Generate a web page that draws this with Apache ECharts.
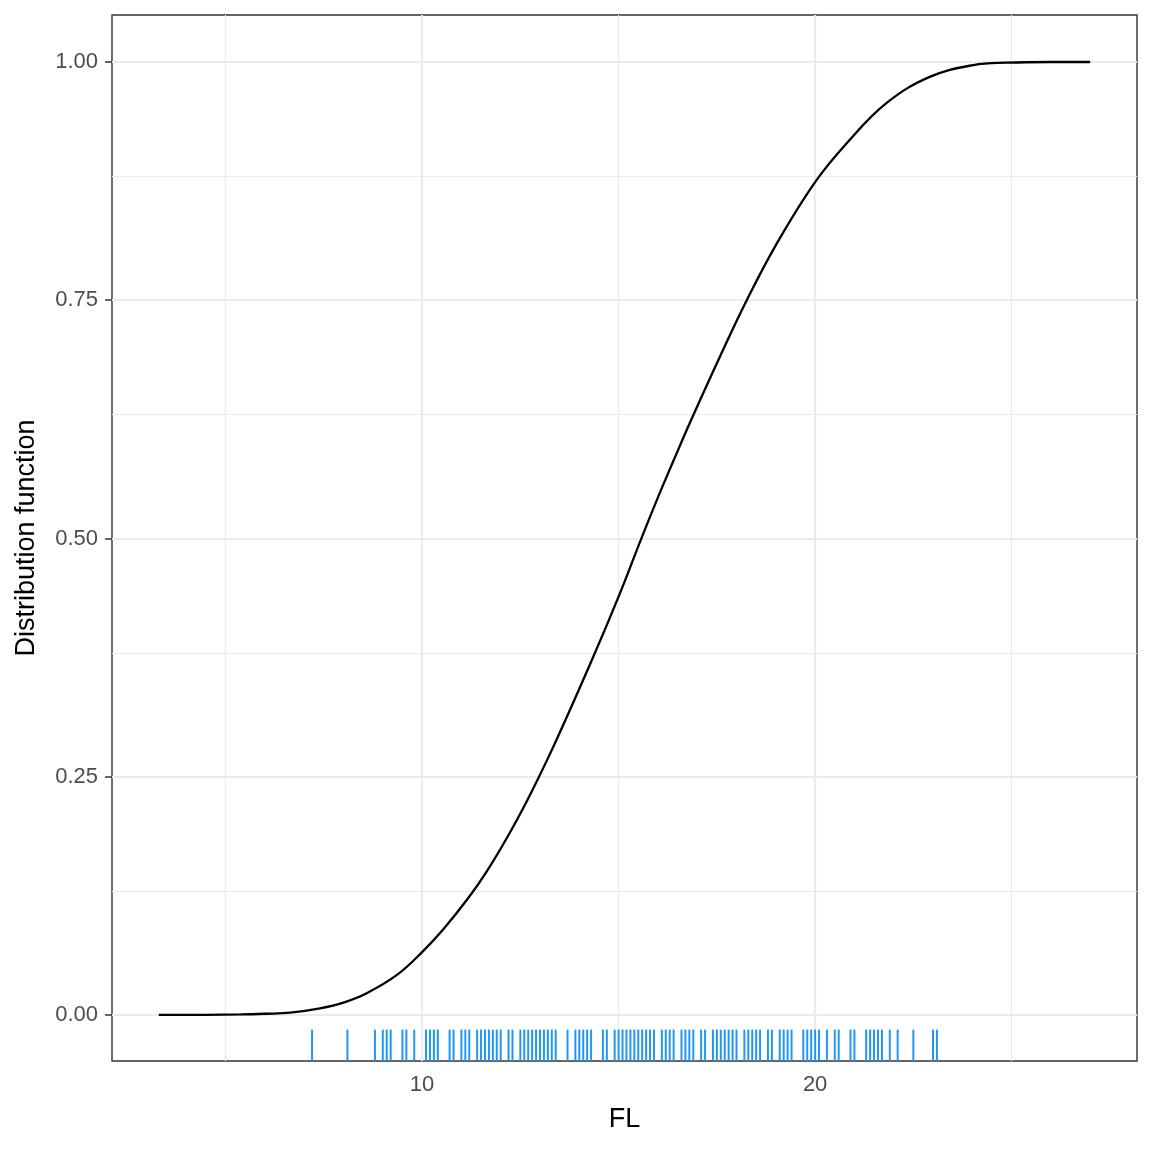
<!DOCTYPE html>
<html>
<head>
<meta charset="utf-8">
<script src="https://cdn.jsdelivr.net/npm/echarts@6/dist/echarts.min.js"></script>
<style>html,body{margin:0;padding:0;background:#fff}#c{width:1152px;height:1152px}</style>
</head>
<body>
<div id="c"></div>
<script>
// Fitted distribution function
const curveX = [3.3, 4.5, 5.4, 6.0, 6.64, 7.4, 8.0, 8.59, 9.36, 10.0, 10.54, 11.18, 11.65, 12.16, 12.68, 13.34, 14.32, 15.0, 15.55, 15.97, 16.39, 16.82, 17.58, 18.26, 19.03, 20.0, 20.81, 21.82, 22.93, 24.03, 24.88, 26.0, 27.0];
const curveY = [0, 0.0002, 0.0006, 0.0013, 0.0024, 0.007, 0.013, 0.0228, 0.042, 0.066, 0.090, 0.123, 0.151, 0.186, 0.2256, 0.2816, 0.3725, 0.439, 0.497, 0.540, 0.581, 0.622, 0.691, 0.750, 0.810, 0.874, 0.915, 0.957, 0.9846, 0.9968, 0.9993, 1.0, 1.0];
// Observed FL values (rug)
const rugValues = [7.2, 8.1, 8.8, 9.0, 9.1, 9.2, 9.5, 9.6, 9.8, 10.1, 10.2, 10.3, 10.4, 10.7, 10.8, 11.0, 11.1, 11.2, 11.4, 11.5, 11.6, 11.7, 11.8, 11.9, 12.0, 12.2, 12.3, 12.5, 12.6, 12.7, 12.8, 12.9, 13.0, 13.1, 13.2, 13.3, 13.4, 13.7, 13.9, 14.0, 14.1, 14.2, 14.3, 14.6, 14.7, 14.9, 15.0, 15.1, 15.2, 15.3, 15.4, 15.5, 15.6, 15.7, 15.8, 15.9, 16.1, 16.2, 16.3, 16.4, 16.6, 16.7, 16.8, 16.9, 17.1, 17.2, 17.4, 17.5, 17.6, 17.7, 17.8, 17.9, 18.0, 18.2, 18.3, 18.4, 18.5, 18.6, 18.8, 18.9, 19.1, 19.2, 19.3, 19.4, 19.7, 19.8, 19.9, 20.0, 20.1, 20.3, 20.5, 20.6, 20.9, 21.0, 21.3, 21.4, 21.5, 21.6, 21.7, 21.9, 22.1, 22.5, 23.0, 23.1];
// Ticks and grid
const xTicks = [10, 20];
const xMinor = [5, 15, 25];
const yTicks = [0, 0.25, 0.5, 0.75, 1.0];
const yMinor = [0.125, 0.375, 0.625, 0.875];
const xRange = [2.11, 28.19];
const yRange = [-0.0483, 1.0493];

const chart = echarts.init(document.getElementById('c'), null, {renderer: 'canvas'});
const font = 'Liberation Sans, Arial, sans-serif';
const gridStyle = (w) => ({color: '#EBEBEB', width: w, type: 'solid'});
const mk = (arr, key, w) => arr.map(v => ({[key]: v, lineStyle: gridStyle(w)}));

chart.setOption({
  animation: false,
  backgroundColor: '#ffffff',
  grid: {left: 112, right: 15, top: 15, bottom: 91, show: true, borderColor: '#333333', borderWidth: 1.4, backgroundColor: '#ffffff'},
  xAxis: {
    type: 'value', min: xRange[0], max: xRange[1],
    name: 'FL', nameLocation: 'middle', nameGap: 45,
    nameTextStyle: {fontFamily: font, fontSize: 27, color: '#000000'},
    axisLine: {show: false},
    axisTick: {show: true, length: 7, lineStyle: {color: '#333333', width: 1.5}, customValues: xTicks},
    axisLabel: {fontFamily: font, fontSize: 22, color: '#4D4D4D', margin: 13, customValues: xTicks, formatter: v => String(v)},
    splitLine: {show: false}
  },
  yAxis: {
    type: 'value', min: yRange[0], max: yRange[1],
    name: 'Distribution function', nameLocation: 'middle', nameGap: 72,
    nameTextStyle: {fontFamily: font, fontSize: 27, color: '#000000'},
    axisLine: {show: false},
    axisTick: {show: true, length: 7, lineStyle: {color: '#333333', width: 1.5}, customValues: yTicks},
    axisLabel: {fontFamily: font, fontSize: 22, color: '#4D4D4D', margin: 14, customValues: yTicks, formatter: v => v.toFixed(2)},
    splitLine: {show: false}
  },
  series: [
    {
      type: 'line', data: [], silent: true, z: 1,
      markLine: {
        silent: true, z: 1, symbol: ['none', 'none'], label: {show: false}, emphasis: {disabled: true},
        data: [].concat(mk(xMinor, 'xAxis', 1.1), mk(yMinor, 'yAxis', 1.1), mk(xTicks, 'xAxis', 2.2), mk(yTicks, 'yAxis', 2.2))
      }
    },
    {
      type: 'line', z: 10,
      data: curveX.map((x, i) => [x, curveY[i]]),
      smooth: 0.4,
      showSymbol: false, symbol: 'none', clip: false,
      lineStyle: {color: '#000000', width: 2.3}
    },
    {
      type: 'custom', z: 11,
      data: rugValues.map(v => [v]),
      renderItem: function (params, api) {
        const x = api.coord([api.value(0), 0])[0];
        const cs = params.coordSys;
        const yb = cs.y + cs.height;
        const len = cs.height * 0.03;
        return {type: 'line', shape: {x1: x, y1: yb - len, x2: x, y2: yb}, style: {stroke: '#2196F3', lineWidth: 2}};
      }
    }
  ]
});
</script>
</body>
</html>
